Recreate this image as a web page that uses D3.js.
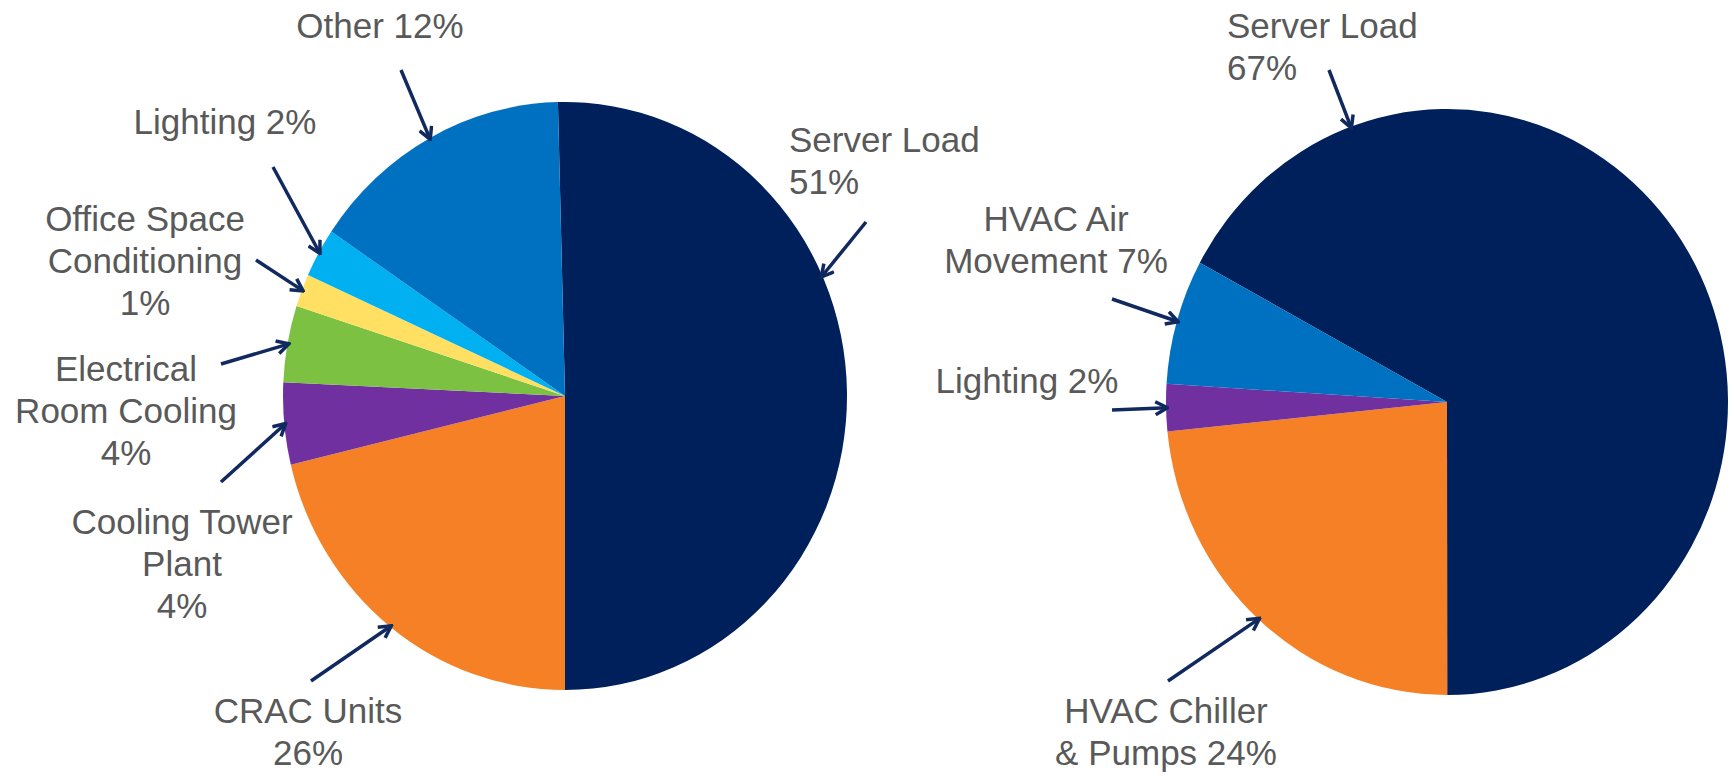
<!DOCTYPE html>
<html>
<head>
<meta charset="utf-8">
<script src="https://cdn.jsdelivr.net/npm/d3@7"></script>
<style>
	html, body { margin: 0; padding: 0; background: #fff; }
	svg { display: block; }
	.pie-label { font-family: "Liberation Sans", Arial, sans-serif; font-size: 35px; fill: #595959; }
	.arrow { stroke: #10295f; stroke-width: 3.5; fill: none; }
</style>
</head>
<body>
<div class="chart"></div>
<script>
// left pie: data centre energy breakdown
const leftCategories = ["Server Load", "CRAC Units", "Cooling Tower Plant", "Electrical Room Cooling", "Office Space Conditioning", "Lighting", "Other"];
const leftLabelPct = [51, 26, 4, 4, 1, 2, 12];
// slice sizes as drawn in the picture (%)
const leftShares = [50.4, 21.25, 4.5, 4.2, 1.8, 2.7, 15.15];
const leftLabels = ["Server Load\n{p}", "CRAC Units\n{p}", "Cooling Tower\nPlant\n{p}", "Electrical\nRoom Cooling\n{p}", "Office Space\nConditioning\n{p}", "Lighting {p}", "Other {p}"];
const leftColors = ["#00205b", "#f58025", "#7030a0", "#7cc142", "#ffe063", "#00b0f0", "#0070c0"];

// right pie
const rightCategories = ["Server Load", "HVAC Chiller & Pumps", "Lighting", "HVAC Air Movement"];
const rightLabelPct = [67, 24, 2, 7];
const rightShares = [67.1, 23.4, 2.6, 6.9];
const rightLabels = ["Server Load\n{p}", "HVAC Chiller\n& Pumps {p}", "Lighting {p}", "HVAC Air\nMovement {p}"];
const rightColors = ["#00205b", "#f58025", "#7030a0", "#0070c0"];

(function() {

	const width = 1735,
		height = 776,
		lineHeight = 42;

	// label placement, arrow tails, and arrow tip angle (deg, null = slice middle)
	const leftLayout = [
		{x: 789, y: 139, anchor: "start", tail: [866, 222], tip: 66},
		{x: 308, y: 710, anchor: "middle", tail: [311, 681], tip: null},
		{x: 182, y: 521, anchor: "middle", tail: [221, 482], tip: null},
		{x: 126, y: 368, anchor: "middle", tail: [221, 364], tip: null},
		{x: 145, y: 218, anchor: "middle", tail: [256, 260], tip: null},
		{x: 225, y: 121, anchor: "middle", tail: [273, 167], tip: null},
		{x: 380, y: 25, anchor: "middle", tail: [401, 70], tip: null}
	];

	const rightLayout = [
		{x: 1227, y: 25, anchor: "start", tail: [1329, 70], tip: 340},
		{x: 1166, y: 710, anchor: "middle", tail: [1168, 681], tip: null},
		{x: 1027, y: 380, anchor: "middle", tail: [1112, 410], tip: null},
		{x: 1056, y: 218, anchor: "middle", tail: [1112, 299], tip: null}
	];

	const svg = d3.select(".chart").append("svg")
		.attr("width", width)
		.attr("height", height);

	svg.append("defs").append("marker")
		.attr("id", "head")
		.attr("markerUnits", "userSpaceOnUse")
		.attr("viewBox", "0 0 16 16")
		.attr("markerWidth", 16)
		.attr("markerHeight", 16)
		.attr("refX", 14)
		.attr("refY", 8)
		.attr("orient", "auto")
		.append("path")
		.attr("d", "M2,1.5 L14,8 L2,14.5")
		.attr("stroke", "#10295f")
		.attr("stroke-width", 3.5)
		.attr("fill", "none");

	function drawPie(opts) {
		const rad = Math.PI / 180;
		const data = opts.categories.map((c, i) => ({
			name: c,
			share: opts.shares[i],
			color: opts.colors[i],
			label: opts.labels[i].replace("{p}", opts.pct[i] + "%"),
			layout: opts.layout[i]
		}));

		const pie = d3.pie()
			.sort(null)
			.value(d => d.share)
			.startAngle(opts.start * rad)
			.endAngle(opts.start * rad + 2 * Math.PI);

		const arc = d3.arc()
			.innerRadius(0)
			.outerRadius(opts.rx);

		const arcs = pie(data);

		// the original pies are a little taller than wide
		const g = svg.append("g")
			.attr("transform", `translate(${opts.cx},${opts.cy}) scale(1,${opts.ry / opts.rx})`);

		g.selectAll("path")
			.data(arcs)
			.enter().append("path")
			.attr("d", arc)
			.attr("fill", d => d.data.color);

		function edgePoint(a) {
			return [opts.cx + opts.rx * 0.995 * Math.sin(a), opts.cy - opts.ry * 0.995 * Math.cos(a)];
		}

		svg.append("g").selectAll("line")
			.data(arcs)
			.enter().append("line")
			.attr("class", "arrow")
			.each(function(d) {
				const l = d.data.layout;
				const a = l.tip != null ? l.tip * rad : (d.startAngle + d.endAngle) / 2;
				const p = edgePoint(a);
				d3.select(this)
					.attr("x1", l.tail[0]).attr("y1", l.tail[1])
					.attr("x2", p[0]).attr("y2", p[1]);
			})
			.attr("marker-end", "url(#head)");

		const labels = svg.append("g").selectAll("text")
			.data(arcs)
			.enter().append("text")
			.attr("class", "pie-label")
			.attr("text-anchor", d => d.data.layout.anchor);

		labels.selectAll("tspan")
			.data(d => d.data.label.split("\n").map(t => ({t: t, l: d.data.layout})))
			.enter().append("tspan")
			.attr("x", d => d.l.x)
			.attr("y", (d, i) => d.l.y + i * lineHeight)
			.attr("dy", "0.36em")
			.text(d => d.t);
	}

	drawPie({
		categories: leftCategories, shares: leftShares, pct: leftLabelPct,
		labels: leftLabels, colors: leftColors, layout: leftLayout,
		cx: 565, cy: 396, rx: 282, ry: 294, start: -1.44
	});

	drawPie({
		categories: rightCategories, shares: rightShares, pct: rightLabelPct,
		labels: rightLabels, colors: rightColors, layout: rightLayout,
		cx: 1447, cy: 402, rx: 281, ry: 293, start: -61.6
	});

})();
</script>
</body>
</html>
